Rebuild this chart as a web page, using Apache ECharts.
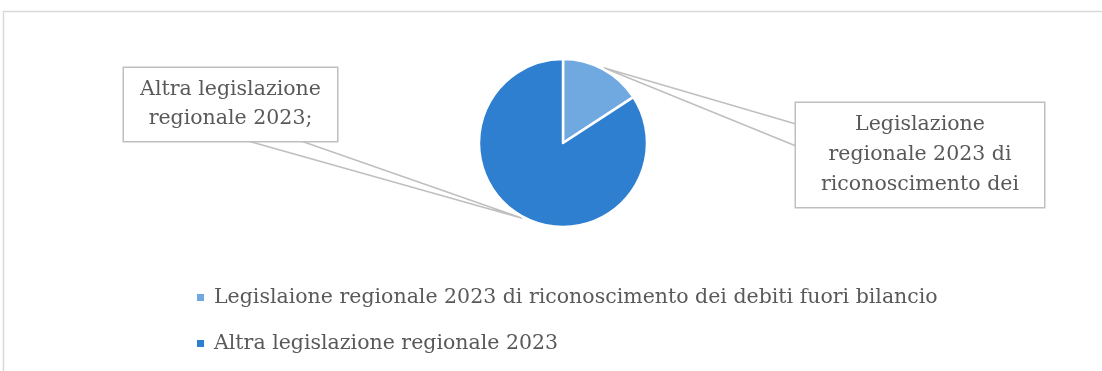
<!DOCTYPE html>
<html>
<head>
<meta charset="utf-8">
<script src="https://cdn.jsdelivr.net/npm/echarts@6/dist/echarts.min.js"></script>
<style>
  html, body { margin: 0; padding: 0; background: #fff; }
  #chart { width: 1102px; height: 371px; }
</style>
</head>
<body>
<div id="chart"></div>
<script>
// Legend names (as written in the legend)
const legendNames = [
  'Legislaione regionale 2023 di riconoscimento dei debiti fuori bilancio',
  'Altra legislazione regionale 2023'
];
// Callout texts shown in the boxes
const calloutTexts = [
  'Legislazione\nregionale 2023 di\nriconoscimento dei',
  'Altra legislazione\nregionale 2023;'
];
// Share of regional legislation (%)
const shares = [15.8, 84.2];
const sliceColors = ['#70A9E0', '#2E7FD0'];

const FONT = '"DejaVu Serif", serif';
const FONT_SIZE = 20.5;
const TEXT_COLOR = '#595959';
const LINE_COLOR = '#bfbfbf';

// Callout boxes: centre, size, and the two points on the box edge where the wedge meets it
const boxes = [
  { cx: 920, cy: 155, w: 248, h: 104, lineH: 30, ends: [[796, 124], [796, 146]] },
  { cx: 230.5, cy: 104.5, w: 213, h: 73, lineH: 29, ends: [[248, 141], [301, 141]] }
];

const chart = echarts.init(document.getElementById('chart'));

const data = shares.map((v, i) => {
  const b = boxes[i];
  const lines = calloutTexts[i].split('\n').length;
  const padV = (b.h - lines * b.lineH) / 2;
  return {
    name: legendNames[i],
    value: v,
    itemStyle: { color: sliceColors[i] },
    label: {
      formatter: calloutTexts[i],
      lineHeight: b.lineH,
      width: b.w - 12,
      padding: [padV, 6, padV, 6]
    }
  };
});

chart.setOption({
  animation: false,
  graphic: [{
    type: 'rect',
    shape: { x: 3.5, y: 11.5, width: 1200, height: 500 },
    style: { fill: 'none', stroke: '#d9d9d9', lineWidth: 1.5 },
    silent: true
  }],
  legend: {
    orient: 'vertical',
    left: 195,
    top: 287,
    padding: 0,
    itemWidth: 9,
    itemHeight: 9,
    itemGap: 25,
    icon: 'rect',
    data: legendNames,
    textStyle: {
      fontFamily: FONT,
      fontSize: FONT_SIZE,
      color: TEXT_COLOR,
      padding: [0, 0, 0, 4]
    }
  },
  series: [{
    type: 'pie',
    center: [563, 143],
    radius: 84,
    startAngle: 90,
    clockwise: true,
    data: data,
    itemStyle: { borderColor: '#fff', borderWidth: 2.5 },
    emphasis: { disabled: true },
    label: {
      show: true,
      position: 'outside',
      fontFamily: FONT,
      fontSize: FONT_SIZE,
      color: TEXT_COLOR,
      align: 'center',
      backgroundColor: '#fff',
      borderColor: LINE_COLOR,
      borderWidth: 1.5
    },
    labelLine: {
      show: true,
      lineStyle: { color: LINE_COLOR, width: 1.5 }
    },
    labelLayout: function (params) {
      const b = boxes[params.dataIndex];
      // wedge apex sits just outside the slice edge, at the slice mid-angle
      const p0 = params.labelLinePoints ? params.labelLinePoints[0] : [563, 143];
      const dx = p0[0] - 563, dy = p0[1] - 143;
      const len = Math.sqrt(dx * dx + dy * dy) || 1;
      const apex = [563 + dx / len * 85.5, 143 + dy / len * 85.5];
      return {
        x: b.cx,
        y: b.cy,
        align: 'center',
        verticalAlign: 'middle',
        labelLinePoints: [b.ends[0], apex, b.ends[1]]
      };
    }
  }]
});
</script>
</body>
</html>
